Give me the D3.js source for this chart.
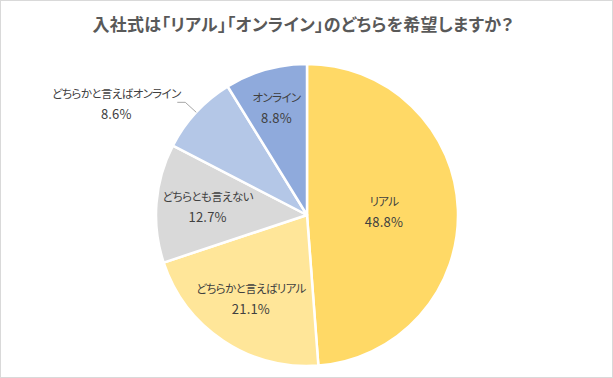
<!DOCTYPE html>
<html><head><meta charset="utf-8">
<script src="https://cdn.jsdelivr.net/npm/d3@7"></script>
<style>
html,body{margin:0;padding:0;background:#fff;}
svg{display:block;font-family:"Noto Sans CJK JP","Noto Sans",sans-serif;font-feature-settings:"palt" 1;}
</style></head>
<body>
<svg id="c" width="613" height="378"></svg>
<script>
const title = "入社式は「リアル」「オンライン」のどちらを希望しますか？";
const categories = ["リアル","どちらかと言えばリアル","どちらとも言えない","どちらかと言えばオンライン","オンライン"];
const values = [48.8, 21.1, 12.7, 8.6, 8.8];
const colors = ["#FFD966","#FFE699","#D9D9D9","#B4C7E7","#8FAADC"];

// layout (not data)
const W = 613, H = 378, cx = 307, cy = 215, R = 151;
const labelRadius = {"リアル":0.51,"どちらかと言えばリアル":0.67,"どちらとも言えない":0.66,"オンライン":0.74};

const svg = d3.select("#c");
svg.append("rect").attr("x",0.5).attr("y",0.5).attr("width",W-1).attr("height",H-1)
  .attr("fill","#fff").attr("stroke","#D9D9D9").attr("stroke-width",1);

svg.append("text").attr("x",303).attr("y",31).attr("text-anchor","middle")
  .attr("font-size",17).attr("font-weight","bold").attr("fill","#595959")
  .attr("letter-spacing",0.3).text(title);

const data = categories.map((c,i)=>({name:c,value:values[i],color:colors[i]}));
const pie = d3.pie().value(d=>d.value).sort(null);
const arcs = pie(data);
const arc = d3.arc().innerRadius(0).outerRadius(R);
const g = svg.append("g").attr("transform",`translate(${cx},${cy})`);

g.selectAll("path").data(arcs).join("path")
  .attr("d",arc).attr("fill",d=>d.data.color)
  .attr("stroke","#fff").attr("stroke-width",2.5).attr("stroke-linejoin","round");

const fmt = v => v.toFixed(1)+"%";
function addLabel(x, y1, y2, name, value) {
  const t = g.append("text").attr("text-anchor","middle").attr("fill","#404040");
  t.append("tspan").attr("x",x).attr("y",y1).attr("font-size",11.5).attr("letter-spacing",-0.6).text(name);
  t.append("tspan").attr("x",x).attr("y",y2).attr("font-size",13).attr("letter-spacing",0.2).text(fmt(value));
}
arcs.forEach(a=>{
  const name = a.data.name;
  if (labelRadius[name] !== undefined) {
    const lr = R*labelRadius[name];
    const p = d3.arc().innerRadius(lr).outerRadius(lr).centroid(a);
    addLabel(p[0], p[1]-6, p[1]+15, name, a.data.value);
  } else {
    const edge = d3.arc().innerRadius(R).outerRadius(R).centroid(a);
    const knee = [edge[0]-11, edge[1]-10];
    const end = [knee[0]-8, knee[1]];
    g.append("polyline").attr("points",[edge,knee,end].map(p=>p.join(",")).join(" "))
      .attr("fill","none").attr("stroke","#A6A6A6").attr("stroke-width",1);
    addLabel(end[0]-61, end[1]-4, end[1]+17, name, a.data.value);
  }
});
</script>
</body></html>
